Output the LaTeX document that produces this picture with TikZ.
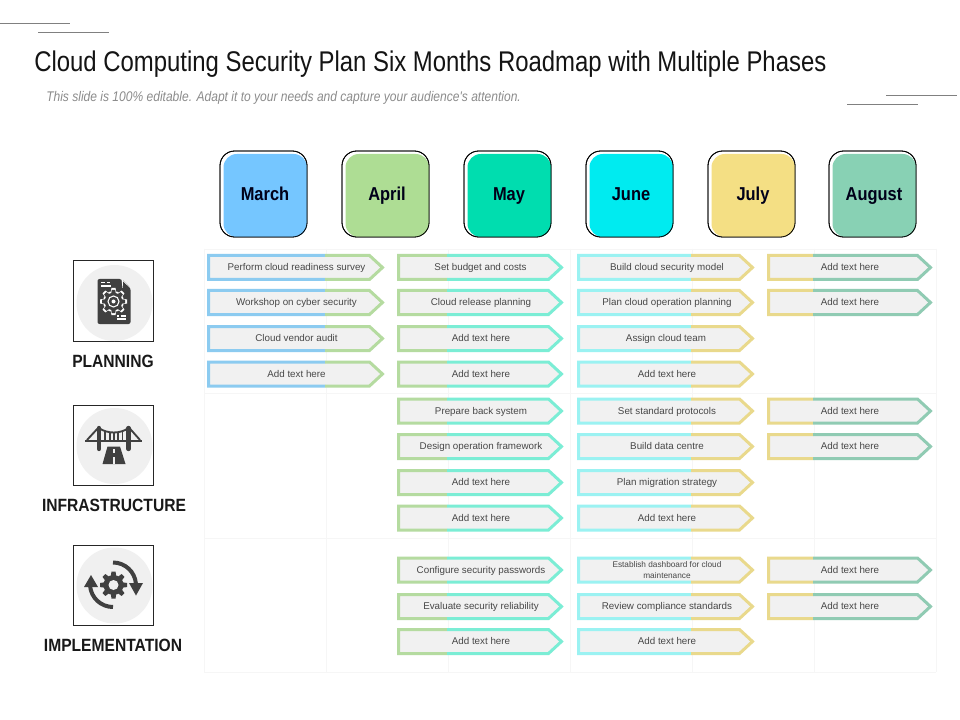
\documentclass[tikz,border=0pt]{standalone}
\usepackage{fontspec}
\setmainfont{Liberation Sans}
\newfontfamily\titlefont[FakeStretch=0.84]{Liberation Sans}
\newfontfamily\subfont[FakeStretch=0.86,ItalicFont={Liberation Sans Italic}]{Liberation Sans}
\newfontfamily\headfont[FakeStretch=0.88,BoldFont={Liberation Sans Bold}]{Liberation Sans}
\definecolor{cMarch}{HTML}{75C6FF}
\definecolor{cApril}{HTML}{AEDD94}
\definecolor{cMay}{HTML}{00DDAF}
\definecolor{cJune}{HTML}{00EBF0}
\definecolor{cJuly}{HTML}{F4DF84}
\definecolor{cAug}{HTML}{88D1B4}
\definecolor{aMarch}{HTML}{8CCBF0}
\definecolor{aApril}{HTML}{B5DBA0}
\definecolor{aMay}{HTML}{7BEDD5}
\definecolor{aJune}{HTML}{9BF2F2}
\definecolor{aJuly}{HTML}{E9D98C}
\definecolor{aAug}{HTML}{90CBB3}
\definecolor{icon}{HTML}{404040}
\tikzset{
  x=0.75pt,y=-0.75pt,
  gridline/.style={draw=black!3.5,line width=0.5pt},
  monthlabel/.style={anchor=base,inner sep=0pt,font=\headfont\bfseries\fontsize{14}{16}\selectfont,text=black!90!blue},
  sectionlabel/.style={font=\headfont\bfseries\fontsize{13.3}{16}\selectfont,text=black!90},
  arrowtext/.style={anchor=base,font=\fontsize{7.35}{9}\selectfont,text=black!72,inner sep=0pt},
  iconbox/.style={draw=black!85,line width=0.75pt,fill=white},
  decoline/.style={draw=black!50,line width=0.6pt},
}
% month box: name, left x, colour, label
\newcommand{\monthbox}[4]{
  \draw[black,line width=0.6pt,fill=white,rounded corners=11pt] (#2,151) rectangle ++(87,86);
  \fill[#3,rounded corners=10pt] (#2+3.5,154) rectangle ++(83.5,83);
  \draw[black,line width=0.6pt,rounded corners=11pt] (#2,151) rectangle ++(87,86);
  \node[monthlabel] (#1) at (#2+45,201) {#4};
}
% arrow: name, x1, tip, split, y, col1, col2, text centre, text
\newcommand{\barrow}[9]{
  \def\arrowshape{(#2,#5-12) -- (#3-13,#5-12) -- (#3,#5) -- (#3-13,#5+12) -- (#2,#5+12) -- cycle}
  \fill[black!5.5] \arrowshape;
  \begin{scope}
    \clip (#2-4,#5-17) rectangle (#4,#5+17);
    \draw[#6,line width=2.25pt,line join=miter] \arrowshape;
  \end{scope}
  \begin{scope}
    \clip (#4,#5-17) rectangle (#3+6,#5+17);
    \draw[#7,line width=2.25pt,line join=miter] \arrowshape;
  \end{scope}
  \node[arrowtext] (#1) at (#8,#5+3.2) {#9};
}
% gear: centre x, y, outer radius, body radius, colour
\newcommand{\gearshape}[5]{
  \fill[#5] (#1,#2) circle[radius=#4];
  \foreach \a in {0,45,...,315}{
    \fill[#5,rotate around={\a:(#1,#2)}] (#1-#3*0.2,#2-#4*0.9) -- (#1-#3*0.15,#2-#3) -- (#1+#3*0.15,#2-#3) -- (#1+#3*0.2,#2-#4*0.9) -- cycle;
  }
}
\begin{document}
\begin{tikzpicture}
\useasboundingbox (0,0) rectangle (960,720);
\fill[white] (0,0) rectangle (960,720);
% decorative lines
\draw[decoline] (0,23) -- (70,23);
\draw[decoline] (38,32) -- (109,32);
\draw[decoline] (886,95) -- (957,95);
\draw[decoline] (847,104) -- (918,104);
% title
\node[anchor=west,inner sep=0pt,font=\titlefont\fontsize{21.35}{25}\selectfont,text=black!92] (title) at (34,64.5) {Cloud Computing Security Plan Six Months Roadmap with Multiple Phases};
\node[anchor=west,inner sep=0pt,font=\subfont\itshape\fontsize{10.5}{12}\selectfont,text=black!45] (subtitle) at (46,97.5) {This slide is 100\% editable. Adapt it to your needs and capture your audience's attention.};
% grid
\foreach \x in {204,326,448,570,692,814,936}{\draw[gridline] (\x,249) -- (\x,672);}
\foreach \y in {249,393,538,672}{\draw[gridline] (204,\y) -- (936,\y);}
% months
\monthbox{mMarch}{220}{cMarch}{March}
\monthbox{mApril}{342}{cApril}{April}
\monthbox{mMay}{464}{cMay}{May}
\monthbox{mJune}{586}{cJune}{June}
\monthbox{mJuly}{708}{cJuly}{July}
\monthbox{mAug}{829}{cAug}{August}
% column 1
\barrow{a1}{208.5}{382.5}{325}{267.5}{aMarch}{aApril}{296.5}{Perform cloud readiness survey}
\barrow{a2}{208.5}{382.5}{325}{302.5}{aMarch}{aApril}{296.5}{Workshop on cyber security}
\barrow{a3}{208.5}{382.5}{325}{338.5}{aMarch}{aApril}{296.5}{Cloud vendor audit}
\barrow{a4}{208.5}{382.5}{325}{374}{aMarch}{aApril}{296.5}{Add text here}
% column 2
\barrow{b1}{398.5}{561.5}{447}{267.5}{aApril}{aMay}{480.5}{Set budget and costs}
\barrow{b2}{398.5}{561.5}{447}{302.5}{aApril}{aMay}{481}{Cloud release planning}
\barrow{b3}{398.5}{561.5}{447}{338.5}{aApril}{aMay}{481}{Add text here}
\barrow{b4}{398.5}{561.5}{447}{374}{aApril}{aMay}{481}{Add text here}
\barrow{b5}{398.5}{561.5}{447}{411}{aApril}{aMay}{481}{Prepare back system}
\barrow{b6}{398.5}{561.5}{447}{446.5}{aApril}{aMay}{481}{Design operation framework}
\barrow{b7}{398.5}{561.5}{447}{482.5}{aApril}{aMay}{481}{Add text here}
\barrow{b8}{398.5}{561.5}{447}{518}{aApril}{aMay}{481}{Add text here}
\barrow{b9}{398.5}{561.5}{447}{570}{aApril}{aMay}{481}{Configure security passwords}
\barrow{b10}{398.5}{561.5}{447}{606.5}{aApril}{aMay}{481}{Evaluate security reliability}
\barrow{b11}{398.5}{561.5}{447}{641.5}{aApril}{aMay}{481}{Add text here}
% column 3
\barrow{c1}{578.5}{752.5}{691}{267.5}{aJune}{aJuly}{667}{Build cloud security model}
\barrow{c2}{578.5}{752.5}{691}{302.5}{aJune}{aJuly}{667}{Plan cloud operation planning}
\barrow{c3}{578.5}{752.5}{691}{338.5}{aJune}{aJuly}{666}{Assign cloud team}
\barrow{c4}{578.5}{752.5}{691}{374}{aJune}{aJuly}{667}{Add text here}
\barrow{c5}{578.5}{752.5}{691}{411}{aJune}{aJuly}{667}{Set standard protocols}
\barrow{c6}{578.5}{752.5}{691}{446.5}{aJune}{aJuly}{667}{Build data centre}
\barrow{c7}{578.5}{752.5}{691}{482.5}{aJune}{aJuly}{667}{Plan migration strategy}
\barrow{c8}{578.5}{752.5}{691}{518}{aJune}{aJuly}{667}{Add text here}
\barrow{c9}{578.5}{752.5}{691}{570}{aJune}{aJuly}{667}{\raisebox{-4.2pt}{\fontsize{6.2}{8}\selectfont\shortstack[c]{Establish dashboard for cloud\\[0.6pt]maintenance}}}
\barrow{c10}{578.5}{752.5}{691}{606.5}{aJune}{aJuly}{667}{Review compliance standards}
\barrow{c11}{578.5}{752.5}{691}{641.5}{aJune}{aJuly}{667}{Add text here}
% column 4
\barrow{d1}{768.5}{930.5}{813}{267.5}{aJuly}{aAug}{850}{Add text here}
\barrow{d2}{768.5}{930.5}{813}{302.5}{aJuly}{aAug}{850}{Add text here}
\barrow{d3}{768.5}{930.5}{813}{411}{aJuly}{aAug}{850}{Add text here}
\barrow{d4}{768.5}{930.5}{813}{446.5}{aJuly}{aAug}{850}{Add text here}
\barrow{d5}{768.5}{930.5}{813}{570}{aJuly}{aAug}{850}{Add text here}
\barrow{d6}{768.5}{930.5}{813}{606.5}{aJuly}{aAug}{850}{Add text here}
% planning icon
\draw[iconbox] (73,261) rectangle (153,341);
\fill[black!6] (114.5,303) circle[radius=38];
\fill[icon,rounded corners=1.5pt] (97.5,279) -- (121.5,279) -- (130.5,288) -- (130.5,324) -- (97.5,324) -- cycle;
\fill[white] (121.5,279) -- (130.5,288) -- (122.5,288) -- cycle;
\fill[icon] (123,281.5) -- (130.5,288.5) -- (123,288.5) -- cycle;
\draw[white,line width=0.9pt] (101,282.5) -- (105,282.5) (107,282.5) -- (110,282.5) (101,286) -- (111,286);
\draw[white,line width=0.9pt] (117,316) -- (119,316) (120.5,316) -- (126,316) (117,319) -- (126,319);
\gearshape{113.5}{301.5}{13.5}{10.5}{white}
\gearshape{113.5}{301.5}{11.5}{8.8}{icon}
\draw[white,line width=0.8pt] (113.5,301.5) circle[radius=5.5];
\fill[white] (113.5,301.5) circle[radius=2];
\node[sectionlabel] (planning) at (113,361) {PLANNING};
% infrastructure icon
\draw[iconbox] (73,405) rectangle (153,485);
\fill[black!6] (114.5,446) circle[radius=38];
\draw[icon,line width=1.6pt] (85,441) -- (142,441);
\draw[icon,line width=3.2pt,line cap=round] (99,428) -- (99,449);
\draw[icon,line width=3.2pt,line cap=round] (128.5,428) -- (128.5,449);
\draw[icon,line width=1.4pt] (99,427) -- (87,440);
\draw[icon,line width=1.4pt] (128.5,427) -- (140,440);
\draw[icon,line width=1.4pt] (99,428) .. controls (107,434) and (120.5,434) .. (128.5,428);
\foreach \x in {105,110,114,118,122.5}{\draw[icon,line width=1pt] (\x,431.5) -- (\x,441);}
\fill[icon] (107.5,446.5) -- (120,446.5) -- (125.5,464) -- (102.5,464) -- cycle;
\draw[black!6,line width=1.4pt] (113.8,449) -- (113.8,453) (113.8,457) -- (113.8,464);
\node[sectionlabel] (infrastructure) at (114,505) {INFRASTRUCTURE};
% implementation icon
\draw[iconbox] (73,545) rectangle (153,625);
\fill[black!6] (114.5,585.5) circle[radius=38];
\gearshape{113.5}{585}{13.5}{10}{icon}
\fill[black!6] (113.5,585) circle[radius=5];
\draw[icon,line width=3pt] (113,562.5) arc[start angle=-90,end angle=-5,radius=23];
\fill[icon] (129,583) -- (143,583) -- (136,595.5) -- cycle;
\draw[icon,line width=3pt] (113,607) arc[start angle=90,end angle=175,radius=23];
\fill[icon] (84,587) -- (98,587) -- (91,575) -- cycle;
\node[sectionlabel] (implementation) at (113,645) {IMPLEMENTATION};
\end{tikzpicture}
\end{document}
